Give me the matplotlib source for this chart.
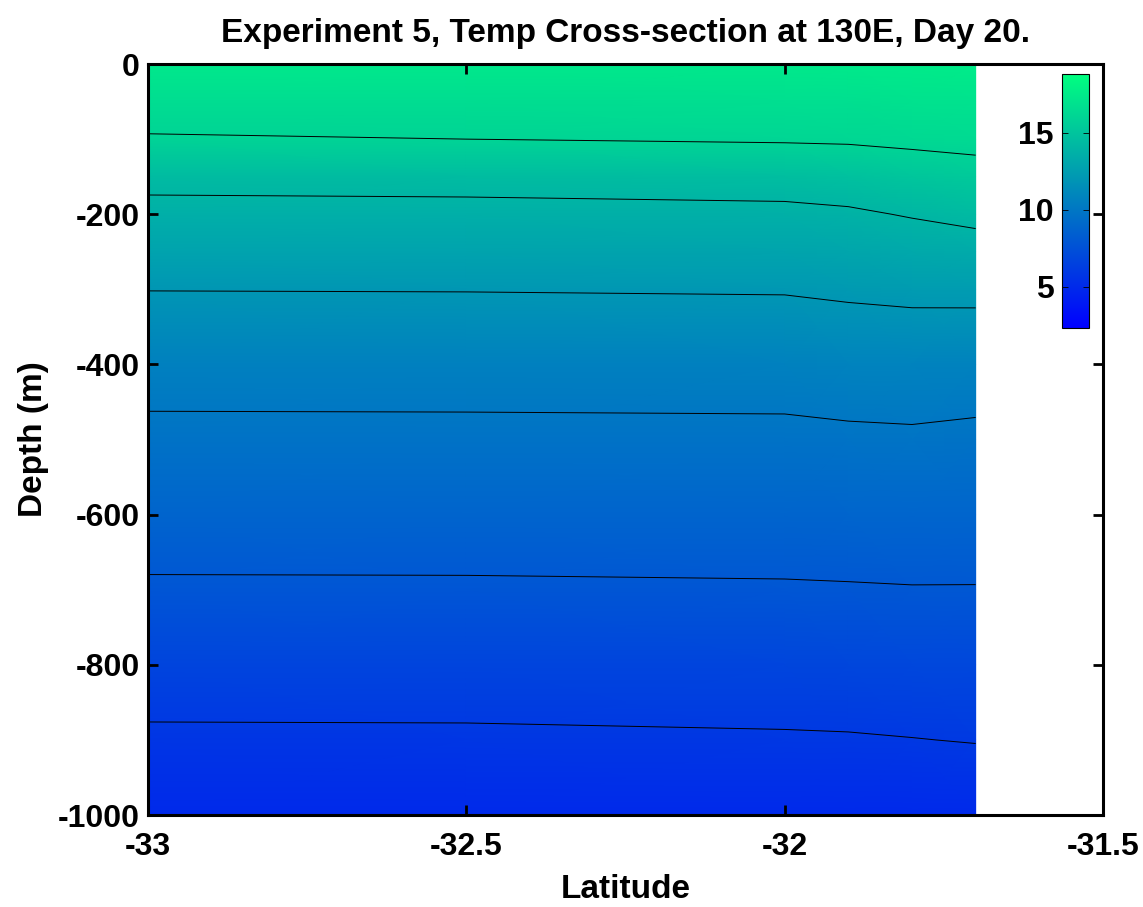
import numpy as np
import matplotlib.pyplot as plt

plt.rcParams['font.family'] = ['Liberation Sans', 'DejaVu Sans']
plt.rcParams['font.weight'] = 'bold'

# latitude columns of the section (deg)
lats = [-33.0, -32.5, -32.0, -31.9, -31.8, -31.7]
# depth levels (m)
depths = [0, -50, -100, -150, -200, -250, -300, -400, -500, -600, -700, -800, -900, -1000]
# temperature (degC), one row per depth level, one column per latitude
temp = [
    [17.30, 17.30, 17.35, 17.40, 17.50, 17.60],
    [16.60, 16.60, 16.69, 16.73, 16.87, 16.98],
    [15.90, 16.00, 16.15, 16.20, 16.34, 16.47],
    [14.40, 14.46, 14.60, 14.75, 15.10, 15.37],
    [13.58, 13.61, 13.69, 13.81, 14.09, 14.39],
    [12.81, 12.84, 12.90, 13.03, 13.23, 13.37],
    [12.03, 12.05, 12.11, 12.26, 12.39, 12.42],
    [10.58, 10.59, 10.62, 10.77, 10.80, 10.72],
    [9.65, 9.66, 9.68, 9.75, 9.80, 9.70],
    [8.75, 8.76, 8.78, 8.83, 8.87, 8.82],
    [7.81, 7.82, 7.87, 7.90, 7.94, 7.94],
    [6.70, 6.72, 6.80, 6.84, 6.91, 6.94],
    [5.78, 5.79, 5.87, 5.90, 5.97, 6.05],
    [5.00, 5.00, 5.00, 5.00, 5.00, 5.00],
]
levels = [6, 8, 10, 12, 14, 16]
cbar_ticks = [5, 10, 15]

LAT, DEP = np.meshgrid(lats, depths)
T = np.array(temp)

fig = plt.figure(figsize=(11.43, 9.07), dpi=100)
ax = fig.add_axes([0.1295, 0.1014, 0.8355, 0.828])

mesh = ax.pcolormesh(LAT, DEP, T, shading='gouraud', cmap='winter', vmin=2.3, vmax=18.8)
ax.contour(LAT, DEP, T, levels=levels, colors='k', linewidths=0.7)

ax.set_xlim(-33, -31.5)
ax.set_ylim(-1000, 0)
ax.set_xticks([-33, -32.5, -32, -31.5])
ax.set_xticklabels(['-33', '-32.5', '-32', '-31.5'])
ax.set_yticks([0, -200, -400, -600, -800, -1000])
ax.set_yticklabels(['0', '-200', '-400', '-600', '-800', '-1000'])
ax.tick_params(direction='in', length=7, width=2, labelsize=23,
               top=True, right=True)
ax.tick_params(axis='x', pad=12)
ax.tick_params(axis='y', pad=6)
for s in ax.spines.values():
    s.set_linewidth(2.2)

ax.set_xlabel('Latitude', fontsize=24, fontweight='bold', labelpad=9)
ax.set_ylabel('Depth (m)', fontsize=24, fontweight='bold', labelpad=6)
ax.set_title('Experiment 5, Temp Cross-section at 130E, Day 20.',
             fontsize=24, fontweight='bold', pad=16)

cax = fig.add_axes([0.929, 0.638, 0.024, 0.28])
cb = fig.colorbar(mesh, cax=cax, ticks=cbar_ticks)
cb.outline.set_linewidth(0.8)
cax.yaxis.set_ticks_position('both')
cax.tick_params(direction='in', length=4, width=0.6, labelsize=23,
                labelleft=True, labelright=False, pad=6)

fig.savefig('out.png', dpi=100)
